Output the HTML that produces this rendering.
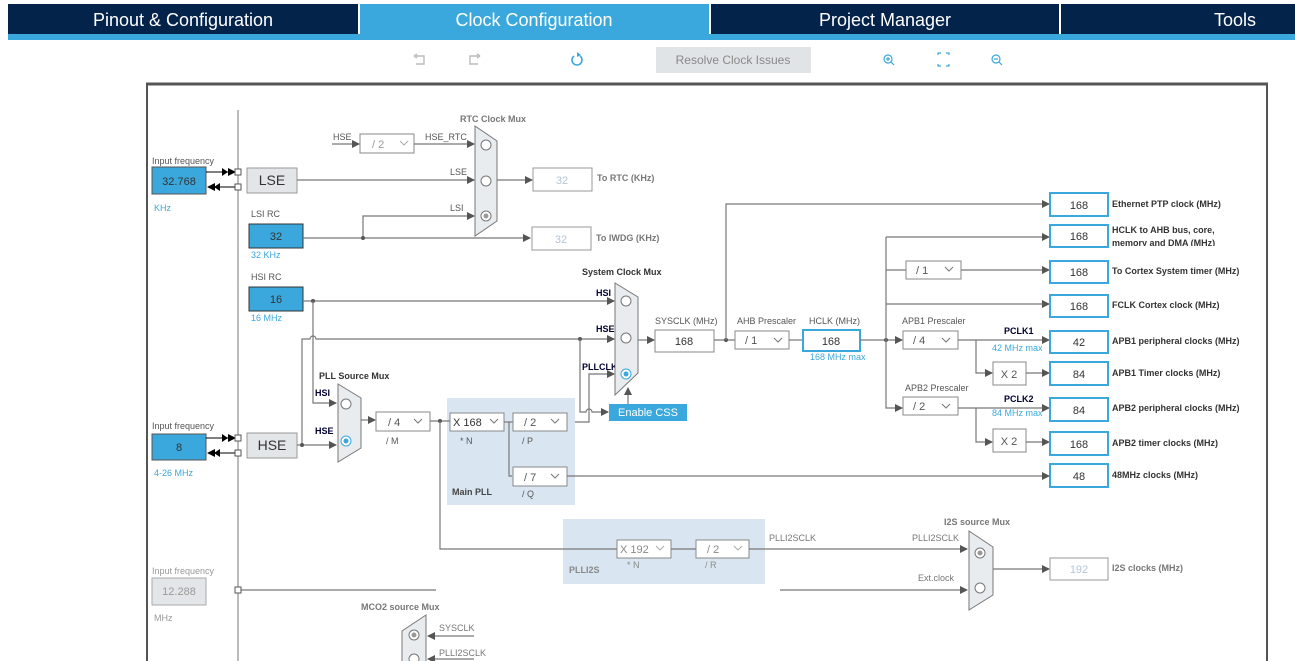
<!DOCTYPE html>
<html><head><meta charset="utf-8"><style>
body{margin:0;width:1295px;height:661px;overflow:hidden;background:#fff;font-family:"Liberation Sans",sans-serif}
svg{position:absolute;left:0;top:0}
text{font-family:"Liberation Sans",sans-serif}
.t{font-size:9px;fill:#555}
.b{font-size:9px;fill:#333;font-weight:bold}
.bl{font-size:9px;fill:#3aa8dc}
.v{font-size:11px;fill:#333;text-anchor:middle}
.ln{stroke:#777;stroke-width:1.2;fill:none}
.dd{fill:#fff;stroke:#888;stroke-width:1}
.ob{fill:#fff;stroke:#3aa8dc;stroke-width:2}
.mux{fill:#e9ecef;stroke:#777;stroke-width:1}
.c{fill:#fff;stroke:#777;stroke-width:1}
</style></head><body>
<svg width="1295" height="661" viewBox="0 0 1295 661">
<defs>
<marker id="a" markerWidth="8" markerHeight="8" refX="7" refY="4" orient="auto" markerUnits="userSpaceOnUse"><path d="M0,0L8,4L0,8z" fill="#555"/></marker>
<marker id="k" markerWidth="8" markerHeight="8" refX="7" refY="4" orient="auto" markerUnits="userSpaceOnUse"><path d="M0,0L8,4L0,8z" fill="#000"/></marker>
</defs>
<!-- tabs -->
<rect x="8" y="4" width="1287" height="30" fill="#03234b"/>
<rect x="360" y="4" width="349" height="30" fill="#3aa8dc"/>
<rect x="8" y="34" width="1287" height="6" fill="#3aa8dc"/>
<rect x="358" y="4" width="2" height="30" fill="#fff"/><rect x="709" y="4" width="2" height="30" fill="#fff"/><rect x="1059" y="4" width="2" height="30" fill="#fff"/>
<g font-size="18" fill="#fff" text-anchor="middle"><text x="183" y="26">Pinout &amp; Configuration</text><text x="534" y="26">Clock Configuration</text><text x="885" y="26">Project Manager</text><text x="1235" y="26">Tools</text></g>
<!-- toolbar -->
<g stroke="#bbb" stroke-width="1.4" fill="none"><path d="M416,56h8v8h-8M414,56l3,-2M414,56l3,2"/><path d="M478,56h-8v8h8M480,56l-3,-2M480,56l-3,2"/></g>
<path d="M574,56a5,5 0 1 0 6,0" stroke="#3aa8dc" stroke-width="1.6" fill="none"/><path d="M577,52l4,3l-4,2z" fill="#3aa8dc"/>
<rect x="656" y="47" width="155" height="26" fill="#e1e4e7"/><text x="733" y="64" font-size="12" fill="#888" text-anchor="middle">Resolve Clock Issues</text>
<g stroke="#3aa8dc" stroke-width="1.2" fill="none"><circle cx="888" cy="59" r="4"/><path d="M891,62l3,3M886,59h4M888,57v4"/><path d="M938,55v-2h3M946,53h3v2M949,64v2h-3M941,66h-3v-2"/><circle cx="996" cy="59" r="4"/><path d="M999,62l3,3M994,59h4"/></g>
<!-- canvas frame -->
<rect x="147" y="84" width="1120" height="600" fill="none" stroke="#555" stroke-width="2"/>
<line x1="146" y1="84" x2="1268" y2="84" stroke="#555" stroke-width="3"/>
<line x1="238" y1="110" x2="238" y2="661" stroke="#777"/>
<!-- LSE -->
<text class="t" x="152" y="164">Input frequency</text>
<rect x="152" y="167" width="54" height="27" fill="#3aa8dc" stroke="#555"/><text class="v" x="179" y="185">32.768</text>
<text class="bl" x="154" y="211">KHz</text>
<line x1="206" y1="172" x2="235" y2="172" stroke="#000" marker-end="url(#k)"/><path d="M222,168l6,4l-6,4z" fill="#000"/>
<line x1="236" y1="187" x2="208" y2="187" stroke="#000" marker-end="url(#k)"/><path d="M220,183l-6,4l6,4z" fill="#000"/>
<rect x="235" y="169" width="6" height="6" fill="#fff" stroke="#555"/><rect x="235" y="184" width="6" height="6" fill="#fff" stroke="#555"/>
<rect x="247" y="168" width="50" height="25" fill="#e3e6e8" stroke="#999"/><text x="272" y="185" font-size="14" fill="#333" text-anchor="middle">LSE</text>
<line class="ln" x1="297" y1="180" x2="474" y2="180" marker-end="url(#a)"/><text class="t" x="450" y="175">LSE</text>
<!-- LSI -->
<text class="t" x="251" y="217">LSI RC</text>
<rect x="249" y="224" width="54" height="24" fill="#3aa8dc" stroke="#333"/><text class="v" x="276" y="240">32</text>
<text class="bl" x="251" y="258">32 KHz</text>
<line class="ln" x1="303" y1="238" x2="530" y2="238" marker-end="url(#a)"/>
<path class="ln" d="M363,238V216H474" marker-end="url(#a)"/><circle cx="363" cy="238" r="2" fill="#555"/>
<text class="t" x="450" y="211">LSI</text>
<!-- HSE_RTC -->
<text class="t" x="333" y="140">HSE</text><line class="ln" x1="332" y1="144" x2="359" y2="144" marker-end="url(#a)"/>
<rect class="dd" x="360" y="134" width="54" height="19"/><text x="372" y="148" font-size="11" fill="#999">/ 2</text><path d="M400,141l4,4l4,-4" stroke="#aaa" fill="none"/>
<text class="t" x="425" y="140">HSE_RTC</text><line class="ln" x1="414" y1="144" x2="474" y2="144" marker-end="url(#a)"/>
<text class="b" x="460" y="122" style="fill:#777">RTC Clock Mux</text>
<path class="mux" d="M475,126L497,141V221L475,236Z"/>
<circle class="c" cx="486" cy="145" r="5"/><circle class="c" cx="486" cy="181" r="5"/><circle class="c" cx="486" cy="216" r="5"/><circle cx="486" cy="216" r="2.5" fill="#999"/>
<line class="ln" x1="497" y1="180" x2="532" y2="180" marker-end="url(#a)"/>
<rect x="533" y="168" width="59" height="23" fill="#fff" stroke="#999"/><text class="v" x="562" y="184" style="fill:#b4c4d8">32</text><text class="b" x="597" y="181" style="fill:#777">To RTC (KHz)</text>
<rect x="532" y="227" width="59" height="23" fill="#fff" stroke="#999"/><text class="v" x="561" y="243" style="fill:#b4c4d8">32</text><text class="b" x="596" y="241" style="fill:#777">To IWDG (KHz)</text>
<!-- HSI -->
<text class="t" x="251" y="280">HSI RC</text>
<rect x="249" y="287" width="54" height="24" fill="#3aa8dc" stroke="#333"/><text class="v" x="276" y="303">16</text>
<text class="bl" x="251" y="321">16 MHz</text>
<line class="ln" x1="303" y1="301" x2="614" y2="301" marker-end="url(#a)"/><circle cx="313" cy="301" r="2" fill="#555"/>
<path class="ln" d="M313,301V403H336" marker-end="url(#a)"/>
<path class="ln" d="M302,445V339H310a3,3 0 0 1 6,0H614" marker-end="url(#a)"/>
<circle cx="580" cy="339" r="2" fill="#555"/>
<path class="ln" d="M580,339V412H586a3,3 0 0 1 6,0H608" marker-end="url(#a)"/>
<path class="ln" d="M567,422H589V374H614" marker-end="url(#a)"/>
<text class="b" x="596" y="296" style="fill:#003">HSI</text><text class="b" x="596" y="332" style="fill:#003">HSE</text><text class="b" x="582" y="370" style="fill:#003">PLLCLK</text>
<text class="b" x="582" y="275">System Clock Mux</text>
<path class="mux" d="M615,283L638,297V373L615,395Z"/>
<circle class="c" cx="626" cy="301" r="5"/><circle class="c" cx="626" cy="338" r="5"/><circle cx="626" cy="374" r="5" fill="#fff" stroke="#3aa8dc"/><circle cx="626" cy="374" r="2.5" fill="#3aa8dc"/>
<rect x="609" y="404" width="78" height="17" fill="#3aa8dc"/><text x="648" y="416" font-size="11" fill="#fff" text-anchor="middle">Enable CSS</text>
<line class="ln" x1="628" y1="404" x2="628" y2="388" marker-end="url(#a)"/>
<!-- SYSCLK -->
<line class="ln" x1="638" y1="340" x2="654" y2="340" marker-end="url(#a)"/>
<text class="t" x="655" y="324">SYSCLK (MHz)</text>
<rect x="655" y="330" width="59" height="22" fill="#fff" stroke="#888"/><text class="v" x="684" y="345">168</text>
<line class="ln" x1="714" y1="340" x2="735" y2="340"/><circle cx="726" cy="340" r="2" fill="#555"/>
<path class="ln" d="M726,340V204H1049" marker-end="url(#a)"/>
<text class="t" x="737" y="324">AHB Prescaler</text>
<rect class="dd" x="735" y="331" width="54" height="18"/><text x="745" y="344" font-size="11" fill="#555">/ 1</text><path d="M774,338l4,4l4,-4" stroke="#777" fill="none"/>
<line class="ln" x1="789" y1="340" x2="803" y2="340"/>
<text class="t" x="809" y="324">HCLK (MHz)</text>
<rect class="ob" x="803" y="330" width="57" height="21"/><text class="v" x="831" y="345">168</text>
<text class="bl" x="810" y="360">168 MHz max</text>
<line class="ln" x1="860" y1="340" x2="902" y2="340" marker-end="url(#a)"/><circle cx="886" cy="340" r="2" fill="#555"/>
<path class="ln" d="M886,237V408H902" marker-end="url(#a)"/>
<line class="ln" x1="886" y1="237" x2="1049" y2="237" marker-end="url(#a)"/>
<line class="ln" x1="886" y1="270" x2="906" y2="270"/>
<rect class="dd" x="906" y="261" width="55" height="18"/><text x="916" y="274" font-size="11" fill="#555">/ 1</text><path d="M945,267l4,4l4,-4" stroke="#777" fill="none"/>
<line class="ln" x1="961" y1="270" x2="1049" y2="270" marker-end="url(#a)"/>
<line class="ln" x1="886" y1="304" x2="1049" y2="304" marker-end="url(#a)"/>
<text class="t" x="902" y="324">APB1 Prescaler</text>
<rect class="dd" x="903" y="331" width="55" height="18"/><text x="913" y="344" font-size="11" fill="#555">/ 4</text><path d="M942,338l4,4l4,-4" stroke="#777" fill="none"/>
<line class="ln" x1="958" y1="340" x2="1049" y2="340" marker-end="url(#a)"/>
<text class="b" x="1004" y="334" style="fill:#003">PCLK1</text><text class="bl" x="992" y="351">42 MHz max</text>
<path class="ln" d="M976,340V373H992" marker-end="url(#a)"/>
<rect x="993" y="362" width="33" height="23" fill="#fff" stroke="#888"/><text class="v" x="1009" y="378" style="fill:#555">X 2</text>
<line class="ln" x1="1026" y1="373" x2="1049" y2="373" marker-end="url(#a)"/>
<text class="t" x="905" y="391">APB2 Prescaler</text>
<rect class="dd" x="903" y="397" width="55" height="18"/><text x="913" y="410" font-size="11" fill="#555">/ 2</text><path d="M942,404l4,4l4,-4" stroke="#777" fill="none"/>
<line class="ln" x1="958" y1="408" x2="1049" y2="408" marker-end="url(#a)"/>
<text class="b" x="1004" y="402" style="fill:#003">PCLK2</text><text class="bl" x="992" y="416">84 MHz max</text>
<path class="ln" d="M976,408V442H992" marker-end="url(#a)"/>
<rect x="993" y="429" width="33" height="23" fill="#fff" stroke="#888"/><text class="v" x="1009" y="445" style="fill:#555">X 2</text>
<line class="ln" x1="1026" y1="442" x2="1049" y2="442" marker-end="url(#a)"/>
<!-- outputs -->
<g>
<rect class="ob" x="1050" y="193" width="58" height="23"/><text class="v" x="1079" y="209">168</text><text class="b" x="1112" y="207">Ethernet PTP clock (MHz)</text>
<rect class="ob" x="1050" y="225" width="58" height="22"/><text class="v" x="1079" y="240">168</text><text class="b" x="1112" y="233">HCLK to AHB bus, core,</text>
<svg x="1110" y="238" width="140" height="8" overflow="hidden"><text class="b" x="2" y="8">memory and DMA (MHz)</text></svg>
<rect class="ob" x="1050" y="261" width="58" height="22"/><text class="v" x="1079" y="276">168</text><text class="b" x="1112" y="274">To Cortex System timer (MHz)</text>
<rect class="ob" x="1050" y="295" width="58" height="22"/><text class="v" x="1079" y="310">168</text><text class="b" x="1112" y="308">FCLK Cortex clock (MHz)</text>
<rect class="ob" x="1050" y="331" width="58" height="22"/><text class="v" x="1079" y="346">42</text><text class="b" x="1112" y="344">APB1 peripheral clocks (MHz)</text>
<rect class="ob" x="1050" y="362" width="58" height="23"/><text class="v" x="1079" y="378">84</text><text class="b" x="1112" y="376">APB1 Timer clocks (MHz)</text>
<rect class="ob" x="1050" y="398" width="58" height="23"/><text class="v" x="1079" y="414">84</text><text class="b" x="1112" y="411">APB2 peripheral clocks (MHz)</text>
<rect class="ob" x="1050" y="432" width="58" height="23"/><text class="v" x="1079" y="448">168</text><text class="b" x="1112" y="446">APB2 timer clocks (MHz)</text>
<rect class="ob" x="1050" y="464" width="58" height="23"/><text class="v" x="1079" y="480">48</text><text class="b" x="1112" y="478">48MHz clocks (MHz)</text>
</g>
<!-- Main PLL -->
<rect x="447" y="398" width="128" height="107" fill="#d9e6f2"/>
<text class="b" x="452" y="495" style="fill:#444">Main PLL</text>
<text class="b" x="319" y="379">PLL Source Mux</text>
<text class="b" x="315" y="396" style="fill:#003">HSI</text><text class="b" x="315" y="434" style="fill:#003">HSE</text>
<path class="mux" d="M338,384L361,398V448L338,462Z"/>
<circle class="c" cx="346" cy="404" r="5"/><circle cx="346" cy="441" r="5" fill="#fff" stroke="#3aa8dc"/><circle cx="346" cy="441" r="2.5" fill="#3aa8dc"/>
<line class="ln" x1="361" y1="420" x2="375" y2="420" marker-end="url(#a)"/>
<rect class="dd" x="376" y="412" width="54" height="19"/><text x="388" y="426" font-size="11" fill="#555">/ 4</text><path d="M414,419l4,4l4,-4" stroke="#777" fill="none"/>
<text class="t" x="386" y="444">/ M</text>
<line class="ln" x1="430" y1="421" x2="450" y2="421"/><circle cx="440" cy="421" r="2" fill="#555"/>
<rect class="dd" x="450" y="413" width="54" height="18"/><text x="453" y="426" font-size="11" fill="#333">X 168</text><path d="M490,419l4,4l4,-4" stroke="#777" fill="none"/>
<text class="t" x="460" y="444">* N</text>
<line class="ln" x1="504" y1="422" x2="513" y2="422"/>
<path class="ln" d="M509,422V476H512"/>
<rect class="dd" x="513" y="413" width="54" height="18"/><text x="524" y="426" font-size="11" fill="#555">/ 2</text><path d="M551,419l4,4l4,-4" stroke="#777" fill="none"/>
<text class="t" x="522" y="444">/ P</text>
<rect class="dd" x="513" y="467" width="54" height="19"/><text x="524" y="481" font-size="11" fill="#555">/ 7</text><path d="M551,474l4,4l4,-4" stroke="#777" fill="none"/>
<text class="t" x="522" y="497">/ Q</text>
<line class="ln" x1="567" y1="476" x2="1049" y2="476" marker-end="url(#a)"/>
<!-- HSE input -->
<text class="t" x="152" y="429">Input frequency</text>
<rect x="152" y="434" width="54" height="26" fill="#3aa8dc" stroke="#555"/><text class="v" x="179" y="451">8</text>
<text class="bl" x="154" y="476">4-26 MHz</text>
<line x1="206" y1="438" x2="235" y2="438" stroke="#000" marker-end="url(#k)"/><path d="M222,434l6,4l-6,4z" fill="#000"/>
<line x1="236" y1="453" x2="208" y2="453" stroke="#000" marker-end="url(#k)"/><path d="M220,449l-6,4l6,4z" fill="#000"/>
<rect x="235" y="435" width="6" height="6" fill="#fff" stroke="#555"/><rect x="235" y="450" width="6" height="6" fill="#fff" stroke="#555"/>
<rect x="247" y="433" width="50" height="25" fill="#e3e6e8" stroke="#999"/><text x="272" y="450" font-size="14" fill="#333" text-anchor="middle">HSE</text>
<line class="ln" x1="297" y1="445" x2="336" y2="445" marker-end="url(#a)"/><circle cx="302" cy="445" r="2" fill="#555"/>
<!-- PLLI2S -->
<rect x="563" y="519" width="202" height="65" fill="#d9e6f2"/>
<text class="b" x="569" y="573" style="fill:#888">PLLI2S</text>
<path class="ln" d="M440,421V549H617"/>
<rect class="dd" x="617" y="540" width="54" height="18"/><text x="620" y="553" font-size="11" fill="#888">X 192</text><path d="M656,546l4,4l4,-4" stroke="#aaa" fill="none"/>
<text class="t" x="627" y="568" style="fill:#888">* N</text>
<line class="ln" x1="671" y1="549" x2="696" y2="549" stroke="#aaa"/>
<rect class="dd" x="696" y="540" width="53" height="18"/><text x="707" y="553" font-size="11" fill="#888">/ 2</text><path d="M734,546l4,4l4,-4" stroke="#aaa" fill="none"/>
<text class="t" x="705" y="568" style="fill:#888">/ R</text>
<line class="ln" x1="749" y1="549" x2="967" y2="549" marker-end="url(#a)"/>
<text class="t" x="769" y="541" style="fill:#777">PLLI2SCLK</text><text class="t" x="912" y="541" style="fill:#777">PLLI2SCLK</text>
<text class="b" x="944" y="525" style="fill:#777">I2S source Mux</text>
<text class="t" x="918" y="581" style="fill:#777">Ext.clock</text>
<line class="ln" x1="780" y1="590" x2="967" y2="590" marker-end="url(#a)"/>
<path class="mux" d="M969,531L993,547V595L969,610Z"/>
<circle class="c" cx="980" cy="553" r="5"/><circle cx="980" cy="553" r="2.5" fill="#999"/><circle class="c" cx="980" cy="588" r="5"/>
<line class="ln" x1="993" y1="569" x2="1049" y2="569" marker-end="url(#a)"/>
<rect x="1050" y="558" width="58" height="22" fill="#fff" stroke="#999"/><text class="v" x="1079" y="573" style="fill:#b4c4d8">192</text>
<text class="b" x="1112" y="571" style="fill:#777">I2S clocks (MHz)</text>
<!-- Ext input -->
<text class="t" x="152" y="574" style="fill:#999">Input frequency</text>
<rect x="152" y="578" width="54" height="27" fill="#e3e6e8" stroke="#aaa"/><text class="v" x="179" y="595" style="fill:#999">12.288</text>
<text class="t" x="154" y="621" style="fill:#999">MHz</text>
<line class="ln" x1="238" y1="590" x2="436" y2="590"/>
<rect x="235" y="587" width="6" height="6" fill="#fff" stroke="#555"/>
<!-- MCO2 -->
<text class="b" x="361" y="610" style="fill:#777">MCO2 source Mux</text>
<path class="mux" d="M426,615L402,631V670L426,680Z"/>
<circle class="c" cx="414" cy="635" r="5"/><circle cx="414" cy="635" r="2.5" fill="#999"/><circle class="c" cx="414" cy="659" r="5"/>
<line class="ln" x1="474" y1="636" x2="428" y2="636" marker-end="url(#a)"/><line class="ln" x1="474" y1="659" x2="428" y2="659" marker-end="url(#a)"/>
<text class="t" x="439" y="631" style="fill:#777">SYSCLK</text><text class="t" x="439" y="656" style="fill:#777">PLLI2SCLK</text>
</svg>
</body></html>
